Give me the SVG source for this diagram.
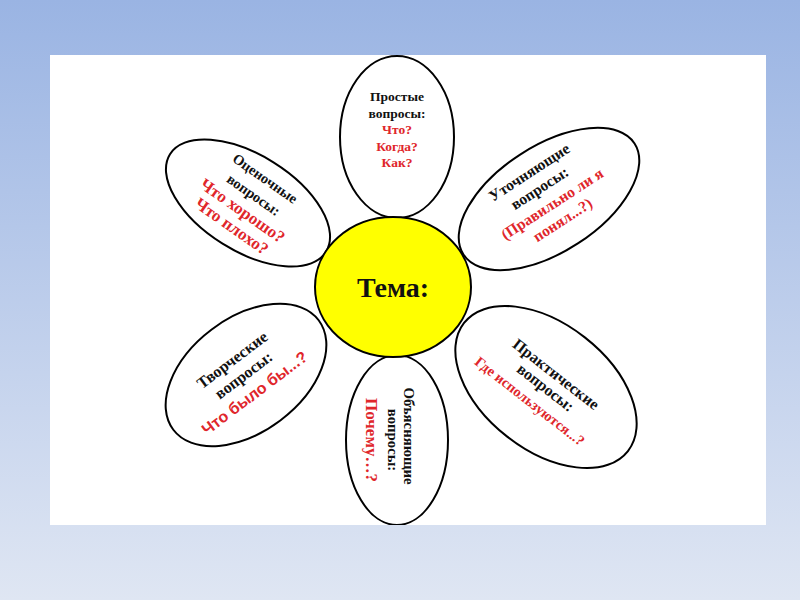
<svg xmlns="http://www.w3.org/2000/svg" width="800" height="600" viewBox="0 0 800 600">
<defs>
<linearGradient id="bg" x1="0" y1="0" x2="0" y2="1">
<stop offset="0" stop-color="#9ab4e3"/>
<stop offset="1" stop-color="#dfe6f3"/>
</linearGradient>
<clipPath id="panel"><rect x="50" y="55" width="716" height="470"/></clipPath>
</defs>
<style>
.petal{fill:#fff;stroke:#000;stroke-width:2}
.core{fill:#ffff00;stroke:#000;stroke-width:2}
.k{font-family:"Liberation Serif",serif;font-weight:bold;fill:#111;text-anchor:middle}
.r{font-family:"Liberation Serif",serif;font-weight:bold;fill:#e0262b;text-anchor:middle}
.rs{font-family:"Liberation Sans",Arial,sans-serif;font-weight:bold;fill:#e0262b;text-anchor:middle}
</style>
<rect width="800" height="600" fill="url(#bg)"/>
<rect x="50" y="55" width="716" height="470" fill="#fff"/>
<g clip-path="url(#panel)">
<g id="top">
<ellipse class="petal" cx="397" cy="137" rx="57" ry="81"/>
<text class="k" x="397" y="101" font-size="13.5">Простые</text>
<text class="k" x="397" y="117.5" font-size="13.5">вопросы:</text>
<text class="r" x="397" y="134" font-size="13.5">Что?</text>
<text class="r" x="397" y="150.5" font-size="13.5">Когда?</text>
<text class="r" x="397" y="167" font-size="13.5">Как?</text>
</g>
<g id="top-left" transform="translate(248,203) rotate(35)">
<ellipse class="petal" cx="0" cy="0" rx="92" ry="48" transform="rotate(-3)"/>
<text class="k" x="0" y="-25" font-size="14.5">Оценочные</text>
<text class="k" x="0" y="-5" font-size="14.5">вопросы:</text>
<text class="r" x="0" y="15" font-size="17">Что хорошо?</text>
<text class="r" x="0" y="34" font-size="17">Что плохо?</text>
</g>
<g id="top-right" transform="translate(549,199) rotate(-33)">
<ellipse class="petal" cx="0" cy="0" rx="102" ry="53"/>
<text class="k" x="-2" y="-28" font-size="15.5">Уточняющие</text>
<text class="k" x="-2" y="-9" font-size="15.5">вопросы:</text>
<text class="r" x="0" y="11" font-size="15.5">(Правильно ли я</text>
<text class="r" x="0" y="30" font-size="15.5">понял...?)</text>
</g>
<g id="bottom-left" transform="translate(246,375) rotate(-37)">
<ellipse class="petal" cx="0" cy="0" rx="91" ry="57"/>
<text class="k" x="-2" y="-15" font-size="16">Творческие</text>
<text class="k" x="-2" y="4" font-size="16">вопросы:</text>
<text class="rs" x="-4" y="25" font-size="16">Что было бы...?</text>
</g>
<g id="bottom-right" transform="translate(546,387) rotate(38)">
<ellipse class="petal" cx="0" cy="0" rx="104" ry="63"/>
<text class="k" x="0" y="-11" font-size="16">Практические</text>
<text class="k" x="0" y="6" font-size="16">вопросы:</text>
<text class="r" x="-4" y="26" font-size="14.5">Где используются...?</text>
</g>
<g id="bottom" transform="translate(397,440) rotate(90)">
<ellipse class="petal" cx="0" cy="0" rx="85" ry="51"/>
<text class="k" x="-4" y="-7" font-size="14.8">Объясняющие</text>
<text class="k" x="0" y="9" font-size="14.8">вопросы:</text>
<text class="r" x="0" y="31" font-size="17">Почему…?</text>
</g>
</g>
<g id="connectors"/>
<g id="center">
<ellipse class="core" cx="393" cy="287" rx="78" ry="70"/>
<text class="k" x="393" y="297" font-size="28">Тема:</text>
</g>
</svg>
